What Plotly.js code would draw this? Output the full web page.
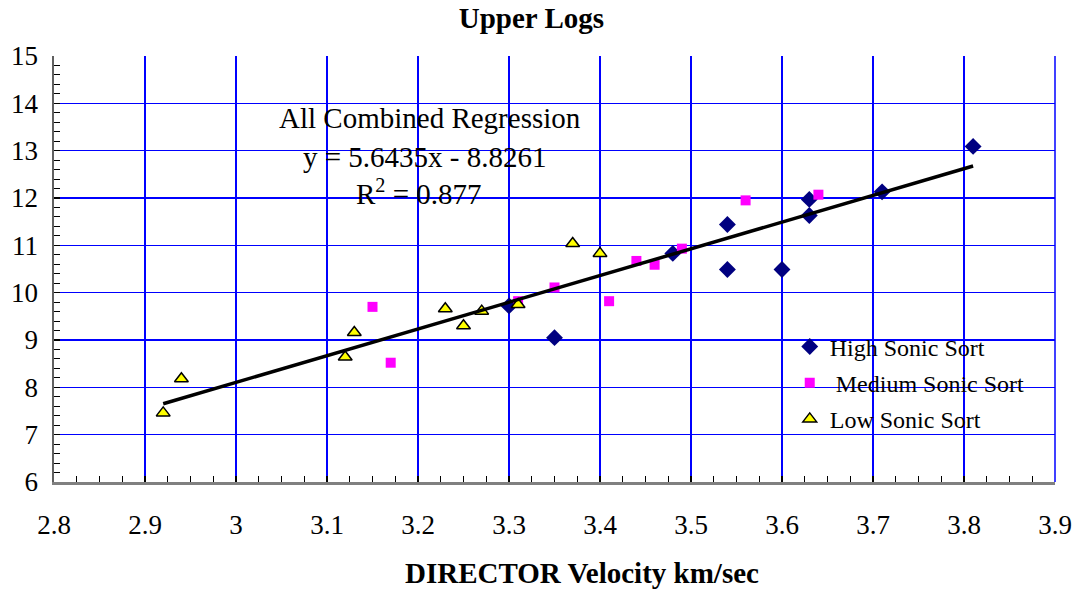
<!DOCTYPE html>
<html>
<head>
<meta charset="utf-8">
<script src="https://cdn.plot.ly/plotly-3.0.1.min.js"></script>
<style>html,body{margin:0;padding:0;background:#fff;}#chart{width:1078px;height:592px;}</style>
</head>
<body>
<div id="chart"></div>
<script>
// ---- data ----
var seriesNames = ["High Sonic Sort", "Medium Sonic Sort", "Low Sonic Sort"];
var highX = [3.30, 3.35, 3.48, 3.54, 3.54, 3.60, 3.63, 3.63, 3.71, 3.81];
var highY = [9.72, 9.05, 10.83, 11.44, 10.49, 10.49, 11.97, 11.63, 12.13, 13.09];
var medX = [3.15, 3.17, 3.31, 3.35, 3.41, 3.44, 3.46, 3.49, 3.56, 3.64];
var medY = [9.70, 8.52, 9.82, 10.11, 9.82, 10.67, 10.59, 10.93, 11.95, 12.07];
var lowX = [2.92, 2.94, 3.12, 3.13, 3.23, 3.25, 3.27, 3.31, 3.37, 3.40];
var lowY = [7.46, 8.18, 8.64, 9.16, 9.66, 9.30, 9.61, 9.75, 11.04, 10.83];
var regSlope = 5.6435;
var regIntercept = -8.8261;
var regR2 = 0.877;
var xTicks = [2.8, 2.9, 3.0, 3.1, 3.2, 3.3, 3.4, 3.5, 3.6, 3.7, 3.8, 3.9];
var xTickLabels = ["2.8", "2.9", "3", "3.1", "3.2", "3.3", "3.4", "3.5", "3.6", "3.7", "3.8", "3.9"];
var yTicks = [6, 7, 8, 9, 10, 11, 12, 13, 14, 15];
var chartTitle = "Upper Logs";
var xTitle = "DIRECTOR Velocity km/sec";

// ---- regression line from the fit coefficients over the data range ----
var allX = highX.concat(medX, lowX);
var xMin = Math.min.apply(null, allX), xMax = Math.max.apply(null, allX);
var regX = [xMin, xMax];
var regY = regX.map(function (v) { return regSlope * v + regIntercept; });

var FONT = 'Liberation Serif, Times New Roman, serif';

var traces = [
  {x: highX, y: highY, type: 'scatter', mode: 'markers', name: seriesNames[0], legendgroup: 'a',
   marker: {symbol: 'diamond', size: 13, color: '#000080'}},
  {x: medX, y: medY, type: 'scatter', mode: 'markers', name: ' ' + seriesNames[1], legendgroup: 'b',
   marker: {symbol: 'square', size: 10, color: '#FF00FF'}},
  {x: lowX, y: lowY, type: 'scatter', mode: 'markers', name: seriesNames[2], legendgroup: 'c',
   marker: {symbol: 'triangle-up', size: 12, color: '#FFFF00', line: {color: '#000000', width: 1.5}}},
  {x: regX, y: regY, type: 'scatter', mode: 'lines', showlegend: false,
   line: {color: '#000000', width: 3.5}, hoverinfo: 'skip'}
];

var layout = {
  width: 1078, height: 592,
  paper_bgcolor: '#ffffff', plot_bgcolor: '#ffffff',
  margin: {l: 54, r: 23, t: 56, b: 110},
  font: {family: FONT, color: '#000000', size: 24},
  title: {text: '<b>' + chartTitle + '</b>', font: {family: FONT, size: 29, color: '#000'},
          xref: 'container', x: 0.493, xanchor: 'center', yref: 'container', y: 0.97, yanchor: 'middle'},
  xaxis: {
    range: [2.8, 3.9], tickvals: xTicks, ticktext: xTickLabels,
    showgrid: true, gridcolor: '#0000FF', gridwidth: 1.5,
    zeroline: false, showline: true, linecolor: '#808080', linewidth: 2.5,
    ticks: 'inside', ticklen: 6, tickcolor: '#000', tickwidth: 1.5,
    ticklabelstandoff: 17,
    tickfont: {family: FONT, size: 27, color: '#000'},
    minor: {dtick: 0.025, ticks: 'inside', ticklen: 6, tickcolor: '#000', tickwidth: 1, showgrid: false}
  },
  yaxis: {
    range: [6, 15], tickvals: yTicks,
    showgrid: true, gridcolor: '#0000FF', gridwidth: 1.5,
    zeroline: false, showline: true, linecolor: '#606060', linewidth: 2.5,
    ticks: 'inside', ticklen: 6, tickcolor: '#000', tickwidth: 1.5,
    ticklabelstandoff: 8,
    tickfont: {family: FONT, size: 27, color: '#000'},
    minor: {dtick: 0.2, ticks: 'inside', ticklen: 6, tickcolor: '#000', tickwidth: 1, showgrid: false}
  },
  shapes: [
    {type: 'line', xref: 'paper', yref: 'paper', x0: 1, x1: 1, y0: 0, y1: 1,
     line: {color: '#0000FF', width: 1.5}}
  ],
  showlegend: true,
  legend: {
    x: 0.735, y: 0.37, xanchor: 'left', yanchor: 'top',
    bgcolor: 'rgba(0,0,0,0)', borderwidth: 0,
    traceorder: 'grouped', tracegroupgap: 2,
    font: {family: FONT, size: 24, color: '#000'}
  },
  annotations: [
    {text: '<b>' + xTitle + '</b>', xref: 'paper', yref: 'paper', x: 0.5275, y: -0.214,
     xanchor: 'center', yanchor: 'middle', showarrow: false, font: {family: FONT, size: 29, color: '#000'}},
    {text: 'All Combined Regression', xref: 'paper', yref: 'paper', x: 0.3756, y: 0.8545,
     xanchor: 'center', yanchor: 'middle', showarrow: false, font: {family: FONT, size: 29, color: '#000'}},
    {text: 'y = ' + regSlope + 'x - ' + Math.abs(regIntercept), xref: 'paper', yref: 'paper', x: 0.3706, y: 0.763,
     xanchor: 'center', yanchor: 'middle', showarrow: false, font: {family: FONT, size: 29, color: '#000'}},
    {text: 'R<sup>2</sup> = ' + regR2, xref: 'paper', yref: 'paper', x: 0.365, y: 0.681,
     xanchor: 'center', yanchor: 'middle', showarrow: false, font: {family: FONT, size: 29, color: '#000'}}
  ]
};

Plotly.newPlot('chart', traces, layout, {displayModeBar: false, staticPlot: true});
</script>
</body>
</html>
